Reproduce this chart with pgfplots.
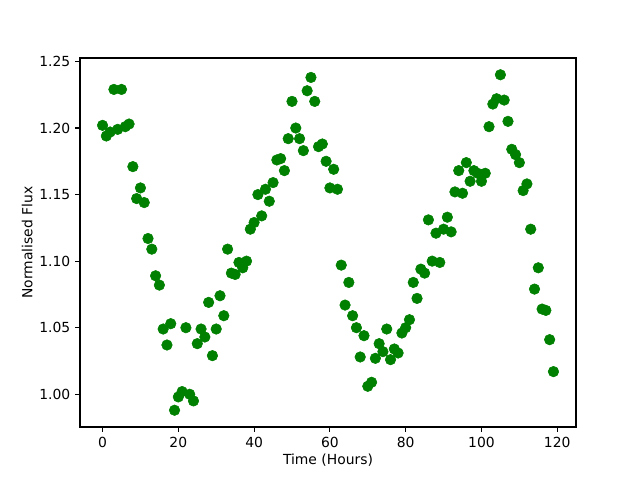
\documentclass[border=0pt]{standalone}
\usepackage{pgfplots}
\pgfplotsset{compat=1.18}
\usepackage{fontspec}
\setmainfont{DejaVu Sans}
\definecolor{mplgreen}{RGB}{0,128,0}
\begin{document}
\begin{tikzpicture}
\path[use as bounding box] (-57.6pt,-38.16pt) rectangle (403.2pt,307.44pt);
\begin{axis}[
  at={(0,0)}, anchor=south west,
  scale only axis, width=357.12pt, height=265.68pt,
  xmin=-5.95, xmax=124.95, ymin=0.9754, ymax=1.2526,
  xtick={0,20,...,120}, ytick={1.00,1.05,...,1.26},
  tick align=outside, major tick length=3.5pt,
  tick style={black, line width=0.8pt},
  axis line style={line width=0.8pt},
  xtick pos=bottom, ytick pos=left,
  /pgf/number format/assume math mode=true,
  tick label style={font=\fontsize{10}{12}\selectfont},
  yticklabel style={/pgf/number format/.cd, fixed, fixed zerofill, precision=2},
  xticklabel style={/pgf/number format/.cd, fixed, precision=0},
  label style={font=\fontsize{10}{12}\selectfont},
  xlabel={Time (Hours)}, ylabel={Normalised Flux},
  xlabel style={yshift=2pt},
  ylabel style={yshift=-2pt},
  clip=false,
]
\addplot[only marks, mark=*, mark size=3.8pt, mplgreen, mark options={draw=mplgreen, fill=mplgreen}] coordinates {
(0,1.202)(1,1.194)(2,1.197)(3,1.229)(4,1.199)(5,1.229)(6,1.201)(7,1.203)(8,1.171)(9,1.147)
(10,1.155)(11,1.144)(12,1.117)(13,1.109)(14,1.089)(15,1.082)(16,1.049)(17,1.037)(18,1.053)(19,0.988)
(20,0.998)(21,1.002)(22,1.050)(23,1.000)(24,0.995)(25,1.038)(26,1.049)(27,1.043)(28,1.069)(29,1.029)
(30,1.049)(31,1.074)(32,1.059)(33,1.109)(34,1.091)(35,1.090)(36,1.099)(37,1.095)(38,1.100)(39,1.124)
(40,1.129)(41,1.150)(42,1.134)(43,1.154)(44,1.145)(45,1.159)(46,1.176)(47,1.177)(48,1.168)(49,1.192)
(50,1.220)(51,1.200)(52,1.192)(53,1.183)(54,1.228)(55,1.238)(56,1.220)(57,1.186)(58,1.188)(59,1.175)
(60,1.155)(61,1.169)(62,1.154)(63,1.097)(64,1.067)(65,1.084)(66,1.059)(67,1.050)(68,1.028)(69,1.044)
(70,1.006)(71,1.009)(72,1.027)(73,1.038)(74,1.032)(75,1.049)(76,1.026)(77,1.034)(78,1.031)(79,1.046)
(80,1.050)(81,1.056)(82,1.084)(83,1.072)(84,1.094)(85,1.091)(86,1.131)(87,1.100)(88,1.121)(89,1.099)
(90,1.124)(91,1.133)(92,1.122)(93,1.152)(94,1.168)(95,1.151)(96,1.174)(97,1.160)(98,1.168)(99,1.166)
(100,1.160)(101,1.166)(102,1.201)(103,1.218)(104,1.222)(105,1.240)(106,1.221)(107,1.205)(108,1.184)(109,1.180)
(110,1.174)(111,1.153)(112,1.158)(113,1.124)(114,1.079)(115,1.095)(116,1.064)(117,1.063)(118,1.041)(119,1.017)
};
\end{axis}
\end{tikzpicture}
\end{document}
